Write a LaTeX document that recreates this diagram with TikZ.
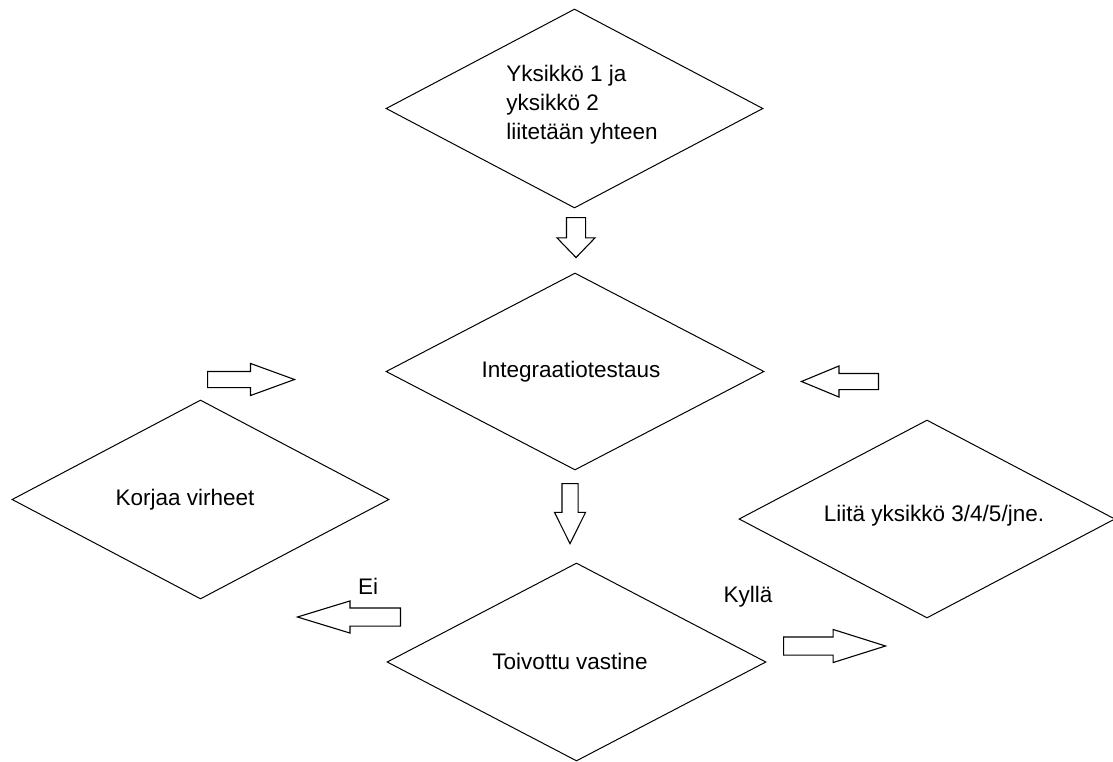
\documentclass[tikz,border=0pt]{standalone}
\usepackage{fontspec}
\setmainfont{Liberation Sans}
\usetikzlibrary{shapes.geometric,shapes.arrows}
\begin{document}
\begin{tikzpicture}[x=1pt,y=-1pt,
  decision/.style={shape=diamond, draw=black, line width=1pt, inner sep=0pt},
  flowtext/.style={font=\fontsize{22.5}{29}\selectfont, inner sep=0pt, text=black},
  blockarrow/.style={shape=single arrow, draw=black, line width=1.1pt,
    inner xsep=0pt, inner ysep=#1, single arrow head indent=0pt, anchor=tail}
]
\useasboundingbox (0,0) rectangle (1113,762);

% decision diamonds
\node[decision, minimum width=377pt, minimum height=199pt] (merge)   at (574.5,108.5) {};
\node[decision, minimum width=378pt, minimum height=197pt] (test)    at (575,371.5) {};
\node[decision, minimum width=377pt, minimum height=199pt] (fix)     at (200.5,499.5) {};
\node[decision, minimum width=376pt, minimum height=198pt] (attach)  at (927,519) {};
\node[decision, minimum width=379pt, minimum height=198pt] (result)  at (576.5,662) {};

% texts
\node[flowtext, align=left] (mergetext) at (582,105)
  {Yksikkö 1 ja\\yksikkö 2\\liitetään yhteen};
\node[flowtext, anchor=base] (testtext)   at (571,377) {Integraatiotestaus};
\node[flowtext, anchor=base] (fixtext)    at (185,505) {Korjaa virheet};
\node[flowtext, anchor=base] (attachtext) at (934,521) {Liitä yksikkö 3/4/5/jne.};
\node[flowtext, anchor=base] (resulttext) at (570,669) {Toivottu vastine};
\node[flowtext, anchor=base] (notext)     at (368,594) {Ei};
\node[flowtext, anchor=base] (yestext)    at (748,602) {Kyllä};

% block arrows: shaft half-width as inner ysep, head extends beyond the shaft
\node[blockarrow=9pt, rotate=-90, minimum height=40pt,
  single arrow head extend=9.5pt, single arrow tip angle=88] (toTest) at (576,217) {};
\node[blockarrow=7.5pt, rotate=-90, minimum height=60pt,
  single arrow head extend=7.5pt, single arrow tip angle=53] (toResult) at (570,483) {};
\node[blockarrow=7.5pt, minimum height=87pt,
  single arrow head extend=8pt, single arrow tip angle=40] (fixBack) at (207,379.5) {};
\node[blockarrow=7.5pt, rotate=180, minimum height=77pt,
  single arrow head extend=7.5pt, single arrow tip angle=45] (attachBack) at (879,381.5) {};
\node[blockarrow=8.5pt, rotate=180, minimum height=103pt,
  single arrow head extend=7pt, single arrow tip angle=34] (noArrow) at (401,617) {};
\node[blockarrow=8.5pt, minimum height=102pt,
  single arrow head extend=7.5pt, single arrow tip angle=35] (yesArrow) at (783,646) {};
\end{tikzpicture}
\end{document}
